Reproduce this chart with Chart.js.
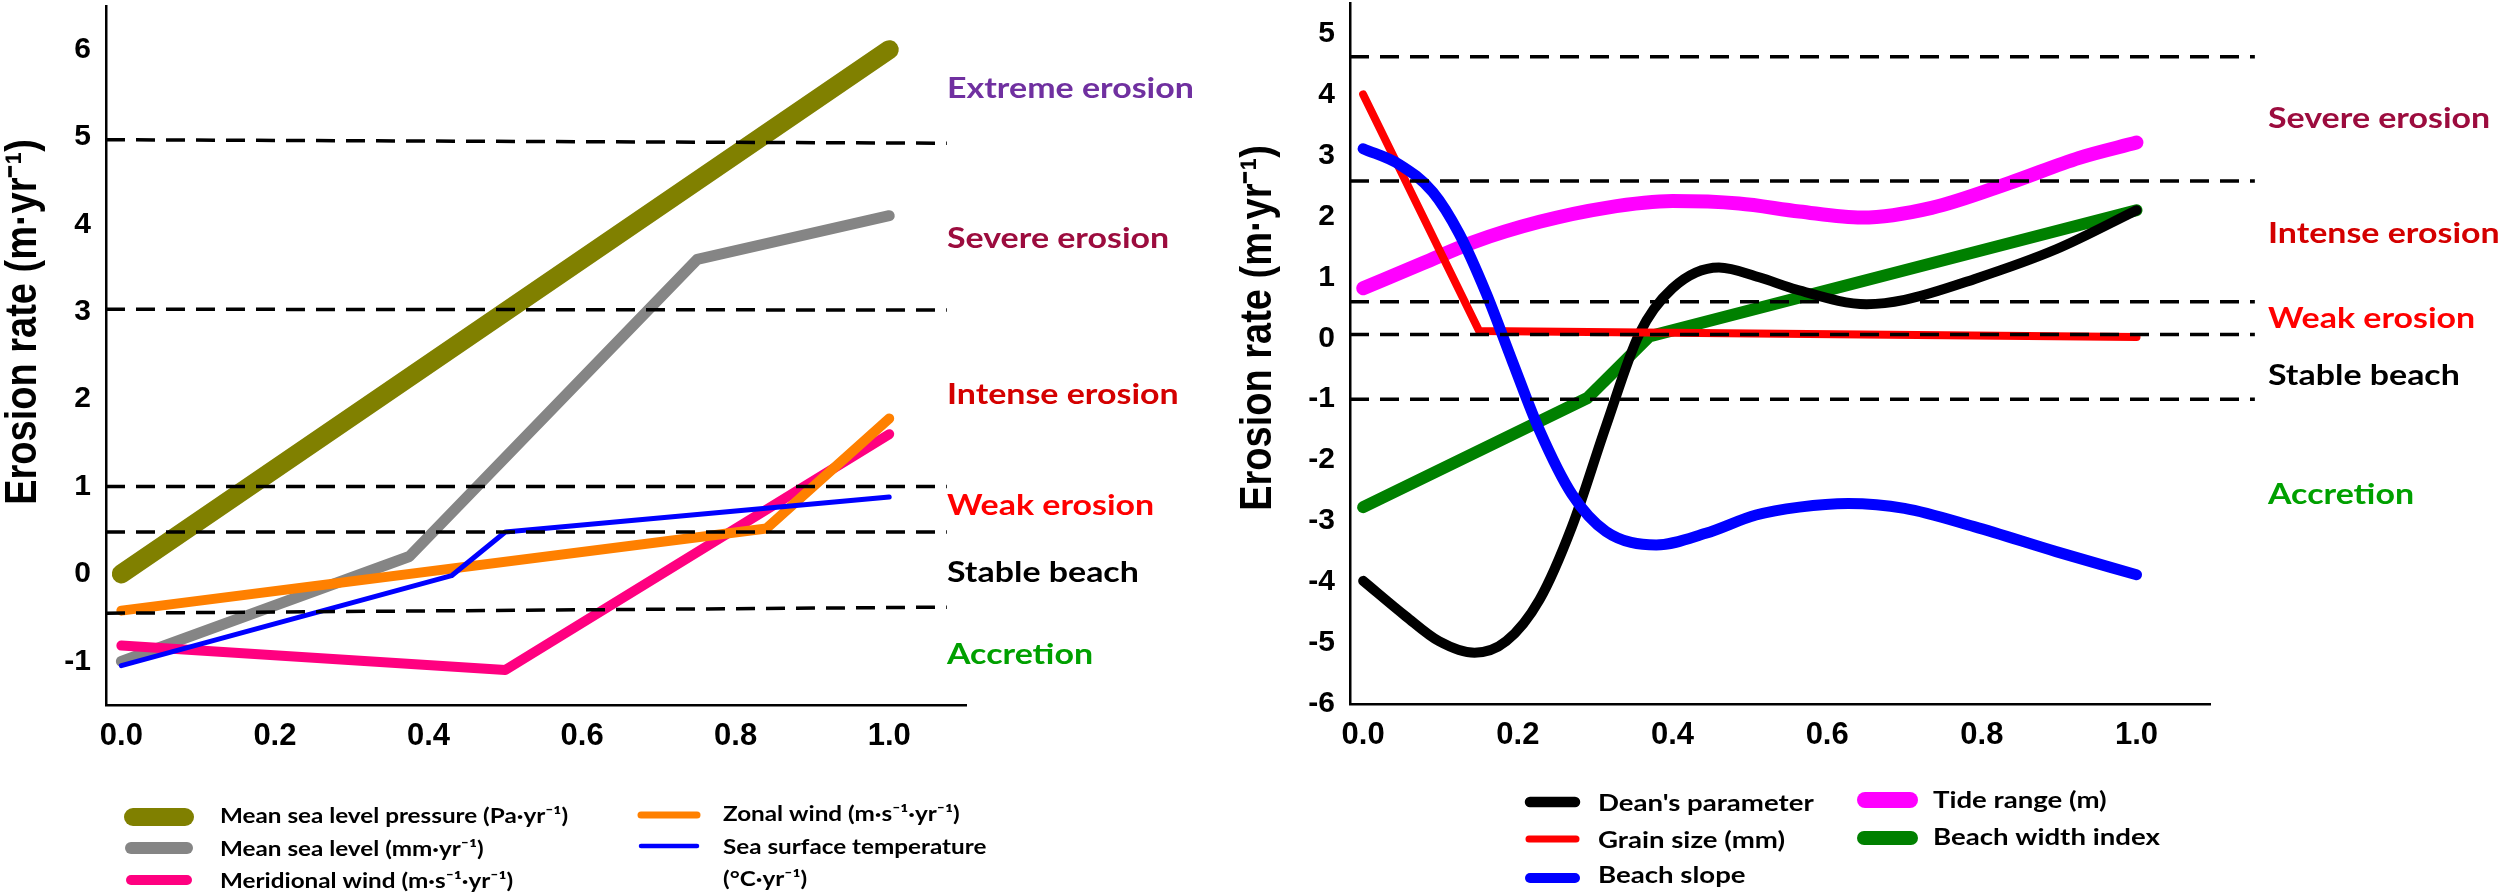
<!DOCTYPE html>
<html>
<head>
<meta charset="utf-8">
<script src="https://cdn.jsdelivr.net/npm/chart.js@4.4.0/dist/chart.umd.min.js"></script>
<style>
  html, body { margin: 0; padding: 0; background: #fff; }
  #wrap { position: relative; width: 2500px; height: 895px; overflow: hidden; }
  .box { position: absolute; top: 0; height: 895px; }
</style>
</head>
<body>
<div id="wrap">
  <div class="box" style="left:0;width:1250px"><canvas id="left" width="1250" height="895"></canvas></div>
  <div class="box" style="left:1200px;width:1300px"><canvas id="right" width="1300" height="895"></canvas></div>
</div>
<script>
// ---------- left panel: climate drivers ----------
const leftXTicks = [0, 0.2, 0.4, 0.6, 0.8, 1.0];
const leftYTicks = [-1, 0, 1, 2, 3, 4, 5, 6];

const pressureX = [0, 1];
const pressureY = [0, 6];
const seaLevelX = [0, 0.375, 0.75, 1];
const seaLevelY = [-1.0, 0.2, 3.6, 4.1];
const meridX = [0, 0.5, 1];
const meridY = [-0.82, -1.1, 1.6];
const zonalX = [0, 0.84, 1];
const zonalY = [-0.42, 0.52, 1.78];
const sstX = [0, 0.43, 0.5, 1];
const sstY = [-1.05, -0.02, 0.48, 0.88];

// class limits (start / end value of each dashed line)
const leftLimitStart = [4.97, 3.03, 1.0, 0.48, -0.45];
const leftLimitEnd = [4.93, 3.02, 1.0, 0.48, -0.38];
const leftZoneLabels = ["Extreme erosion", "Severe erosion", "Intense erosion", "Weak erosion", "Stable beach", "Accretion"];
const leftZoneLevels = [5.55, 3.84, 2.05, 0.78, 0.02, -0.92];

// ---------- right panel: beach parameters ----------
const rightXTicks = [0, 0.2, 0.4, 0.6, 0.8, 1.0];
const rightYTicks = [-6, -5, -4, -3, -2, -1, 0, 1, 2, 3, 4, 5];

const deanX = [0, 0.055, 0.098, 0.144, 0.185, 0.228, 0.27, 0.314, 0.357, 0.40, 0.46, 0.512, 0.56, 0.651, 0.70, 0.79, 0.896, 1.0];
const deanY = [-3.98, -4.56, -4.97, -5.16, -4.97, -4.29, -3.09, -1.44, 0.07, 0.82, 1.16, 1.0, 0.8, 0.56, 0.63, 0.97, 1.46, 2.1];
const grainX = [0, 0.15, 1.0];
const grainY = [4.0, 0.12, 0.02];
const slopeX = [0, 0.047, 0.09, 0.124, 0.159, 0.193, 0.228, 0.27, 0.314, 0.379, 0.443, 0.508, 0.564, 0.627, 0.70, 0.79, 0.896, 1.0];
const slopeY = [3.11, 2.85, 2.4, 1.72, 0.74, -0.38, -1.51, -2.56, -3.17, -3.39, -3.2, -2.9, -2.77, -2.71, -2.79, -3.09, -3.5, -3.88];
const tideX = [0, 0.077, 0.141, 0.228, 0.314, 0.40, 0.486, 0.564, 0.645, 0.735, 0.836, 0.926, 1.0];
const tideY = [0.82, 1.23, 1.57, 1.91, 2.14, 2.25, 2.21, 2.08, 1.98, 2.14, 2.55, 2.96, 3.21];
const widthX = [0, 0.29, 0.37, 1.0];
const widthY = [-2.77, -0.98, 0.03, 2.1];

const rightLimits = [4.62, 2.58, 0.6, 0.06, -1.0];
const rightZoneLabels = ["Severe erosion", "Intense erosion", "Weak erosion", "Stable beach", "Accretion"];
const rightZoneLevels = [3.6, 1.72, 0.33, -0.61, -2.56];

const zoneColors = {
  "Extreme erosion": "#7030a0",
  "Severe erosion": "#9c0c3e",
  "Intense erosion": "#d40000",
  "Weak erosion": "#ff0000",
  "Stable beach": "#000000",
  "Accretion": "#00a000"
};

const TICK_FONT = "Liberation Sans";
const TEXT_FONT = "Lato";

function pts(xs, ys) {
  return xs.map((x, i) => ({ x: x, y: ys[i] }));
}

function series(label, xs, ys, color, width, order, smooth) {
  return {
    label: label,
    data: pts(xs, ys),
    borderColor: color,
    backgroundColor: color,
    borderWidth: width,
    borderCapStyle: "round",
    borderJoinStyle: "round",
    pointRadius: 0,
    fill: false,
    order: order,
    tension: smooth ? 0.4 : 0,
    cubicInterpolationMode: smooth ? "monotone" : "default",
    clip: false
  };
}

function limitLines(x0, x1, starts, ends) {
  return starts.map((v, i) => ({
    label: "limit" + i,
    data: [{ x: x0, y: v }, { x: x1, y: ends[i] }],
    borderColor: "#000",
    borderWidth: 3.5,
    borderDash: [19, 11],
    pointRadius: 0,
    fill: false,
    order: -1,
    clip: false
  }));
}

// the figure's lettering is a bit wider than Lato, so stretch it sideways
function wideText(ctx, text, x, y, sx) {
  ctx.save();
  ctx.translate(x, y);
  ctx.scale(sx, 1);
  ctx.fillText(text, 0, 0);
  ctx.restore();
}

// zone names to the right of the plot
function zonePlugin(labels, levels, dx) {
  return {
    id: "zones",
    afterDraw(chart) {
      const ctx = chart.ctx, y = chart.scales.y;
      ctx.save();
      ctx.font = "bold 29px " + TEXT_FONT;
      ctx.textAlign = "left";
      ctx.textBaseline = "middle";
      labels.forEach((t, i) => {
        ctx.fillStyle = zoneColors[t];
        wideText(ctx, t, chart.chartArea.right + dx, y.getPixelForValue(levels[i]), 1.17);
      });
      ctx.restore();
    }
  };
}

// rotated y title, placed a little above the axis centre as in the figure
function sideTitle(cx, cy) {
  return {
    id: "sideTitle",
    afterDraw(chart) {
      const ctx = chart.ctx;
      ctx.save();
      ctx.translate(cx, cy);
      ctx.rotate(-Math.PI / 2);
      ctx.scale(1, 1.15);
      ctx.font = "bold 38px " + TICK_FONT;
      ctx.fillStyle = "#000";
      ctx.textAlign = "center";
      ctx.textBaseline = "middle";
      ctx.fillText("Erosion rate (m·yr⁻¹)", 0, 0);
      ctx.restore();
    }
  };
}

// legend drawn from the datasets' own colour
function legendPlugin(items, size, sx) {
  return {
    id: "boxLegend",
    afterDraw(chart) {
      const ctx = chart.ctx;
      ctx.save();
      items.forEach(it => {
        const ds = chart.data.datasets[it.ds];
        ctx.strokeStyle = ds.borderColor;
        ctx.lineWidth = it.w;
        ctx.lineCap = "round";
        ctx.beginPath();
        ctx.moveTo(it.x1, it.y);
        ctx.lineTo(it.x2, it.y);
        ctx.stroke();
        ctx.fillStyle = "#000";
        ctx.font = "bold " + size + "px " + TEXT_FONT;
        ctx.textAlign = "left";
        ctx.textBaseline = "middle";
        const lines = [ds.label].concat(it.extra || []);
        lines.forEach((l, k) => wideText(ctx, l, it.tx, it.ty + k * 32, sx));
      });
      ctx.restore();
    }
  };
}

function axes(xMin, xMax, yMin, yMax, xTicks, yTicks, yWidth, xHeight) {
  return {
    x: {
      type: "linear", min: xMin, max: xMax,
      afterBuildTicks: s => { s.ticks = xTicks.map(v => ({ value: v })); },
      afterFit: s => { s.height = xHeight; s.paddingLeft = 0; s.paddingRight = 0; },
      grid: { display: false, drawTicks: false },
      border: { display: true, color: "#000", width: 2.5 },
      ticks: {
        color: "#000", padding: 13, maxRotation: 0, autoSkip: false,
        font: { family: TICK_FONT, size: 31, weight: "bold" },
        callback: v => Number(v).toFixed(1)
      }
    },
    y: {
      type: "linear", min: yMin, max: yMax,
      afterBuildTicks: s => { s.ticks = yTicks.map(v => ({ value: v })); },
      afterFit: s => { s.width = yWidth; s.paddingTop = 0; s.paddingBottom = 0; },
      grid: { display: false, drawTicks: false },
      border: { display: true, color: "#000", width: 2.5 },
      ticks: {
        color: "#000", padding: 15, autoSkip: false,
        font: { family: TICK_FONT, size: 30, weight: "bold" },
        callback: v => String(v)
      }
    }
  };
}

const baseOptions = {
  responsive: false,
  animation: false,
  devicePixelRatio: 1,
  events: [],
  plugins: { legend: { display: false }, tooltip: { enabled: false } }
};

// ----- left chart -----
const leftSets = [
  series("Mean sea level pressure (Pa·yr⁻¹)", pressureX, pressureY, "#808000", 19, 5, false),
  series("Mean sea level (mm·yr⁻¹)", seaLevelX, seaLevelY, "#858585", 11, 4, false),
  series("Meridional wind (m·s⁻¹·yr⁻¹)", meridX, meridY, "#ff0080", 10, 3, false),
  series("Zonal wind (m·s⁻¹·yr⁻¹)", zonalX, zonalY, "#ff8000", 10, 2, false),
  series("Sea surface temperature", sstX, sstY, "#0000ff", 5, 1, false)
].concat(limitLines(-0.02, 1.075, leftLimitStart, leftLimitEnd));

const leftLegend = [
  { ds: 0, x1: 133, x2: 185, y: 817, w: 18, tx: 220, ty: 816 },
  { ds: 1, x1: 131, x2: 187, y: 848, w: 12, tx: 220, ty: 849 },
  { ds: 2, x1: 131, x2: 187, y: 880, w: 10, tx: 220, ty: 881 },
  { ds: 3, x1: 641, x2: 697, y: 815, w: 7, tx: 723, ty: 814 },
  { ds: 4, x1: 641, x2: 697, y: 846, w: 4.5, tx: 723, ty: 847, extra: ["(°C·yr⁻¹)"] }
];

new Chart(document.getElementById("left"), {
  type: "line",
  data: { datasets: leftSets },
  options: Object.assign({}, baseOptions, {
    layout: { padding: { left: 0, right: 284, top: 6, bottom: 0 } },
    scales: axes(-0.02, 1.1, -1.5, 6.5, leftXTicks, leftYTicks, 106, 190)
  }),
  plugins: [zonePlugin(leftZoneLabels, leftZoneLevels, -19), sideTitle(24, 322), legendPlugin(leftLegend, 21, 1.155)]
});

// ----- right chart -----
const rightSets = [
  series("Dean's parameter", deanX, deanY, "#000000", 10, 3, true),
  series("Grain size (mm)", grainX, grainY, "#ff0000", 8, 2, false),
  series("Beach slope", slopeX, slopeY, "#0000ff", 11, 1, true),
  series("Tide range (m)", tideX, tideY, "#ff00ff", 14, 5, true),
  series("Beach width index", widthX, widthY, "#008000", 12, 4, false)
].concat(limitLines(-0.017, 1.153, rightLimits, rightLimits));

// positions in this canvas (it starts 1200 px into the page)
const rightLegend = [
  { ds: 0, x1: 330, x2: 375, y: 802, w: 10.5, tx: 398, ty: 804 },
  { ds: 1, x1: 329, x2: 376, y: 839, w: 7, tx: 398, ty: 841 },
  { ds: 2, x1: 330, x2: 375, y: 878, w: 10, tx: 398, ty: 876 },
  { ds: 3, x1: 665, x2: 710, y: 800, w: 16, tx: 733, ty: 801 },
  { ds: 4, x1: 664, x2: 711, y: 838, w: 14, tx: 733, ty: 838 }
];

new Chart(document.getElementById("right"), {
  type: "line",
  data: { datasets: rightSets },
  options: Object.assign({}, baseOptions, {
    layout: { padding: { left: 0, right: 290, top: 3, bottom: 0 } },
    scales: axes(-0.017, 1.095, -6, 5.5, rightXTicks, rightYTicks, 150, 191)
  }),
  plugins: [zonePlugin(rightZoneLabels, rightZoneLevels, 58), sideTitle(59, 328), legendPlugin(rightLegend, 23, 1.2)]
});
</script>
</body>
</html>
